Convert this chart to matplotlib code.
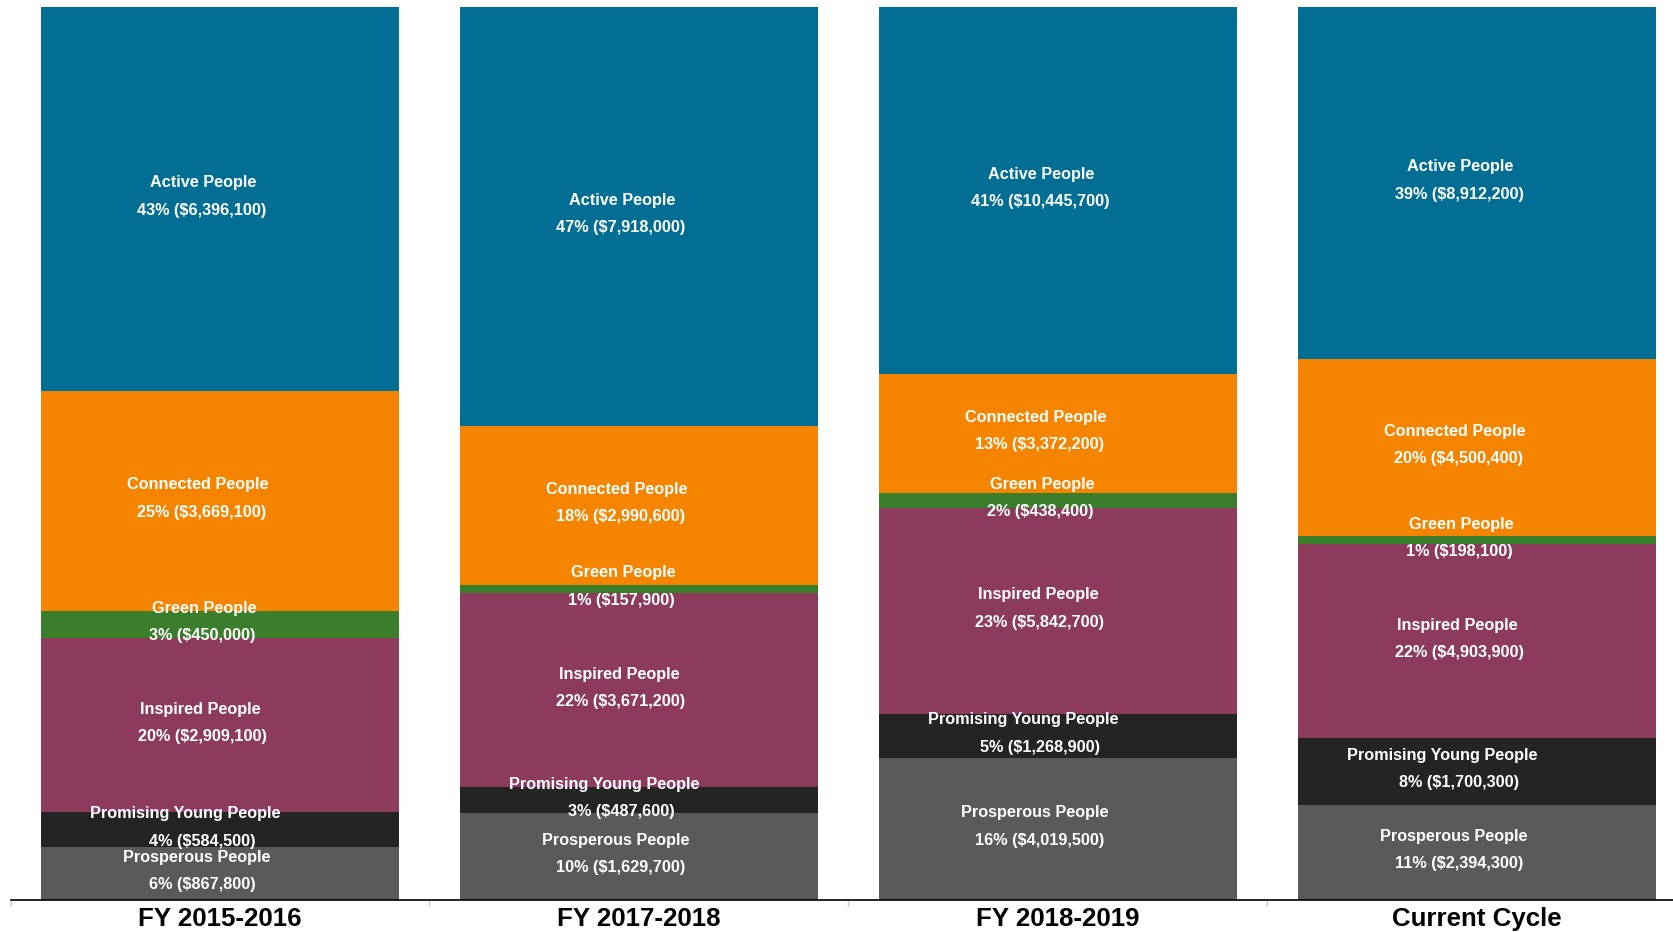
import matplotlib
matplotlib.use("Agg")
import matplotlib.pyplot as plt
import numpy as np

plt.rcParams['font.family'] = ['Liberation Sans', 'DejaVu Sans']

periods = ["FY 2015-2016", "FY 2017-2018", "FY 2018-2019", "Current Cycle"]
segments = ["Prosperous People", "Promising Young People", "Inspired People",
            "Green People", "Connected People", "Active People"]
prosperous = [867800, 1629700, 4019500, 2394300]
promising = [584500, 487600, 1268900, 1700300]
inspired = [2909100, 3671200, 5842700, 4903900]
green = [450000, 157900, 438400, 198100]
connected = [3669100, 2990600, 3372200, 4500400]
active = [6396100, 7918000, 10445700, 8912200]
colors = ["#5a5a5a", "#242424", "#8d3b5d", "#3a7d2b", "#f58400", "#026e93"]
# horizontal label offsets (points) per segment name
name_dx = [-17, -25, -14, -11.5, -16, -12]
value_dx = -13

series = [prosperous, promising, inspired, green, connected, active]
data = np.array(series, dtype=float)
totals = data.sum(axis=0)
shares = data / totals

fig = plt.figure(figsize=(16.73, 9.32), dpi=100)
ax = fig.add_axes([10.5 / 1673, 32.5 / 932, 1676 / 1673, 892.8 / 932])

x = np.arange(len(periods))
bottom = np.zeros(len(periods))
for name, vals, sh, col, ndx in zip(segments, data, shares, colors, name_dx):
    ax.bar(x, sh, width=0.855, bottom=bottom, color=col, linewidth=0)
    for i in range(len(periods)):
        mid = bottom[i] + sh[i] / 2
        ax.annotate(name, (x[i], mid), xytext=(ndx, 11.5), textcoords="offset points",
                    ha="center", va="center", color="white", fontsize=11.7,
                    fontweight="bold")
        ax.annotate(f"{sh[i]*100:.0f}% (${vals[i]:,.0f})", (x[i], mid),
                    xytext=(value_dx, -8.2), textcoords="offset points",
                    ha="center", va="center", color="white", fontsize=11.7,
                    fontweight="bold")
    bottom += sh

ax.set_xlim(-0.5, len(periods) - 0.5)
ax.set_ylim(0, 1)
for s in ["top", "right", "left"]:
    ax.spines[s].set_visible(False)
ax.spines["bottom"].set_color("black")
ax.spines["bottom"].set_linewidth(1.2)
ax.set_yticks([])
ax.set_xticks(x)
ax.set_xticklabels(periods, fontsize=18.6, fontweight="bold")
ax.tick_params(axis="x", which="major", length=0, pad=5.5)
ax.set_xticks(np.arange(-0.5, len(periods)), minor=True)
ax.tick_params(axis="x", which="minor", length=4, color="#cccccc", width=1)

fig.savefig("out.png", dpi=100)
